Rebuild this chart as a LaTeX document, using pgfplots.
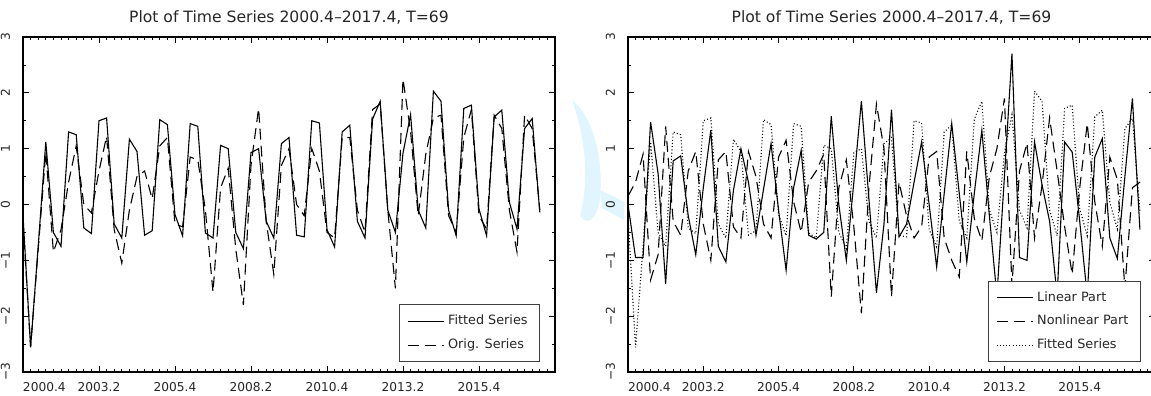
\documentclass[border=0pt]{standalone}
\usepackage{fontspec}
\setmainfont{DejaVu Sans}
\usepackage{pgfplots}
\usepackage{pgfplotstable}
\pgfplotsset{compat=1.18}

\pgfplotstableread{
i F O L N
0 -0.20 -0.30 0.00 0.15
1 -2.56 -2.55 -0.95 0.40
2 -0.75 -0.80 -0.95 0.90
3 1.12 0.94 1.48 -1.35
4 -0.50 -0.85 0.55 -0.90
5 -0.75 -0.45 -1.42 1.40
6 1.30 0.40 0.78 -0.30
7 1.25 1.05 0.87 -0.55
8 -0.42 0.00 -0.20 0.60
9 -0.52 -0.15 -0.90 0.95
10 1.50 0.60 0.30 -0.35
11 1.55 1.22 1.33 -1.00
12 -0.35 -0.45 -0.75 0.80
13 -0.60 -1.05 -1.03 0.95
14 1.17 -0.10 0.25 -0.40
15 0.95 0.50 1.00 -0.60
16 -0.55 0.60 0.40 0.95
17 -0.47 0.10 -0.55 0.50
18 1.52 1.05 0.27 -0.35
19 1.43 1.20 1.09 -0.60
20 -0.18 -0.35 -0.10 0.85
21 -0.56 -0.40 -1.18 1.15
22 1.45 0.85 0.30 0.05
23 1.40 0.80 0.97 -0.50
24 -0.51 -0.10 -0.55 0.40
25 -0.60 -1.57 -0.62 0.60
26 1.06 0.30 -0.50 0.90
27 1.00 0.65 1.58 -1.65
28 -0.50 -0.80 0.00 0.30
29 -0.79 -1.80 -1.00 0.80
30 0.93 0.70 0.40 -0.40
31 1.00 1.72 1.85 -1.95
32 -0.30 -0.30 0.10 0.30
33 -0.60 -1.25 -1.58 1.80
34 1.09 0.70 -0.35 1.00
35 1.20 1.00 1.70 -1.65
36 -0.55 0.00 -0.58 0.40
37 -0.58 -0.20 -0.35 -0.20
38 1.50 1.00 0.40 -0.60
39 1.46 0.60 1.12 -0.40
40 -0.45 -0.50 0.00 0.85
41 -0.76 -0.60 -1.12 0.95
42 1.30 1.20 0.20 -0.60
43 1.42 1.20 1.45 -1.00
44 -0.30 -0.10 0.20 -1.30
45 -0.60 -0.50 -1.03 0.95
46 1.53 1.70 0.20 -0.25
47 1.85 1.80 1.33 -0.65
48 -0.10 -0.10 -0.20 0.50
49 -0.50 -1.50 -1.64 1.00
50 0.92 2.25 0.50 1.90
51 1.61 1.30 2.70 -1.45
52 -0.10 -0.20 -0.95 0.60
53 -0.42 0.90 -1.00 1.10
54 2.03 1.55 1.12 -0.60
55 1.85 1.60 0.35 0.35
56 -0.10 -0.20 -0.30 1.55
57 -0.56 -0.50 -1.64 0.60
58 1.72 1.20 1.12 -0.40
59 1.78 1.70 0.94 -1.25
60 -0.08 -0.20 -0.30 0.30
61 -0.56 -0.44 -1.64 1.45
62 1.57 1.60 0.85 0.05
63 1.69 1.36 1.18 -0.75
64 0.04 -0.10 -0.60 0.85
65 -0.44 -0.85 -0.97 0.45
66 1.36 1.60 0.50 -1.50
67 1.54 1.36 1.90 0.30
68 -0.14 -0.10 -0.45 0.40
}\datatable

\pgfplotsset{
  gstyle/.style={
    scale only axis, height=167.5pt,
    xmin=0, xmax=70, ymin=-3, ymax=3,
    xtick={0,10,...,60},
    xticklabels={\makebox[0pt][l]{2000.4},2003.2,2005.4,2008.2,2010.4,2013.2,2015.4},
    minor xtick={0,1,...,70},
    ytick={-3,-2,...,3},
    yticklabels={−3,−2,−1,0,1,2,3},
    minor ytick={-2.5,-1.5,...,2.5},
    tick align=inside,
    major tick length=3pt, minor tick length=1.5pt,
    every tick/.style={black, line width=0.4pt},
    axis line style={black, line width=0.8pt},
    ticklabel style={font=\fontsize{6.1}{7}\selectfont, text=black!85},
    xticklabel style={yshift=-1.5pt},
    yticklabel style={xshift=-3pt, rotate=90, anchor=south},
    every axis title shift=0pt,
    title style={font=\fontsize{7.8}{9}\selectfont, text=black!85, yshift=3pt},
    legend cell align=left,
    legend style={font=\fontsize{6.4}{7.5}\selectfont, text=black!85, draw=black!75, line width=0.5pt,
      inner xsep=4pt, inner ysep=3pt, row sep=1.5pt, anchor=south east},
    legend image code/.code={\draw[#1] (0pt,0pt) -- (18pt,0pt);},
  },
  sline/.style={black, line width=0.55pt, solid},
  dline/.style={black, line width=0.55pt, dash pattern=on 5.5pt off 3pt},
  tline/.style={black, line width=0.55pt, dash pattern=on 0.5pt off 1.1pt},
}

\begin{document}
\begin{tikzpicture}
\useasboundingbox (0,0) rectangle (575.5pt,198pt);
\fill[white] (0,0) rectangle (575.5pt,198pt);
% faint watermark between the panels
\fill[cyan!12] (286pt,148pt) .. controls (296pt,140pt) and (302pt,120pt) .. (300pt,98pt)
  .. controls (298pt,88pt) and (294pt,85pt) .. (290pt,90pt)
  .. controls (294pt,105pt) and (294pt,125pt) .. (286pt,148pt) -- cycle;
\fill[cyan!12] (300pt,103pt) -- (312pt,97pt) -- (312pt,88pt) -- (301pt,94pt) -- cycle;
\begin{axis}[gstyle, width=266pt, at={(11.5pt,12pt)}, anchor=south west,
  title={Plot of Time Series 2000.4–2017.4, T=69},
  legend style={at={(0.972,0.03)}}]
\addplot[sline] table[x=i, y=F] {\datatable};
\addlegendentry{Fitted Series}
\addplot[dline] table[x=i, y=O] {\datatable};
\addlegendentry{Orig. Series}
\end{axis}
\begin{axis}[gstyle, width=263.5pt, at={(314pt,12pt)}, anchor=south west,
  title={Plot of Time Series 2000.4–2017.4, T=69},
  legend style={at={(0.973,0.03)}}]
\addplot[sline] table[x=i, y=L] {\datatable};
\addlegendentry{Linear Part}
\addplot[dline] table[x=i, y=N] {\datatable};
\addlegendentry{Nonlinear Part}
\addplot[tline] table[x=i, y=F] {\datatable};
\addlegendentry{Fitted Series}
\end{axis}
\end{tikzpicture}
\end{document}
